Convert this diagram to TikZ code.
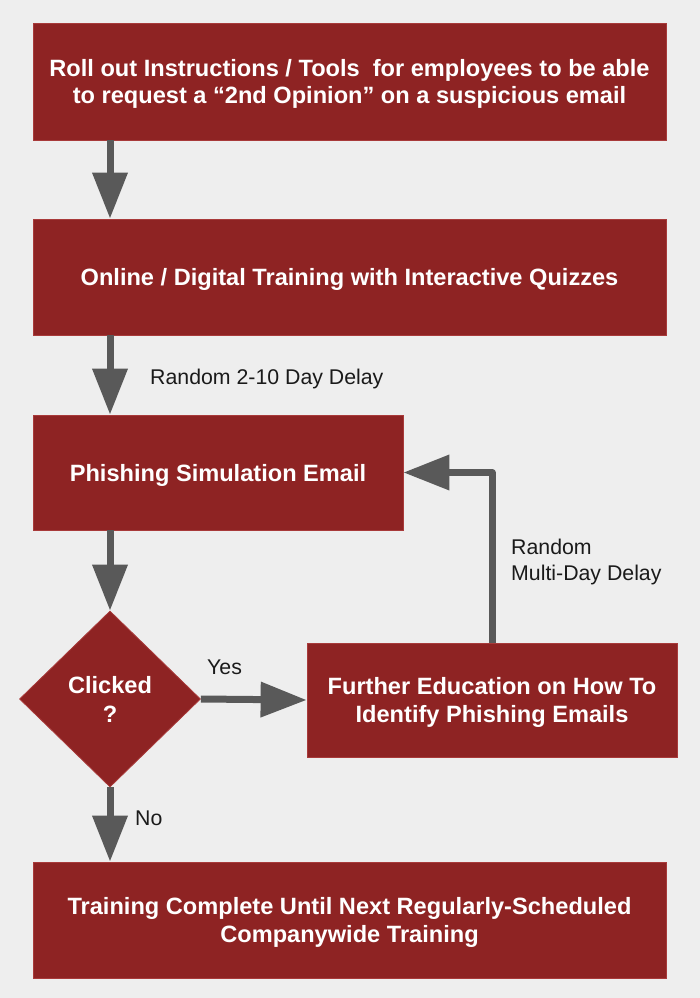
\documentclass[tikz,border=0pt]{standalone}
\usepackage{fontspec}
\setmainfont{Liberation Sans}
\usetikzlibrary{arrows.meta,shapes.geometric,calc}
\definecolor{boxred}{HTML}{8E2323}
\definecolor{boxedge}{HTML}{A83A3A}
\definecolor{bg}{HTML}{EEEEEE}
\definecolor{arrowgray}{HTML}{595959}
\definecolor{lbltext}{HTML}{1A1A1A}
\begin{document}
\begin{tikzpicture}[x=1pt,y=-1pt,
  box/.style={fill=boxred, draw=boxedge, line width=0.8pt, inner sep=0pt, align=center,
    text=white, text depth=0pt, font=\fontsize{23.6}{27.5}\selectfont\bfseries},
  dia/.style={diamond, fill=boxred, draw=boxedge, line width=0.8pt, inner sep=0pt, align=center,
    text=white, text depth=0pt, font=\fontsize{23.6}{29}\selectfont\bfseries, minimum width=181pt, minimum height=176pt},
  flow/.style={draw=arrowgray, line width=7pt, line join=round, -{Triangle[length=46pt,width=34pt]}},
  lbl/.style={font=\fontsize{21.3}{26}\selectfont, text=lbltext, inner sep=0pt}]
\fill[bg] (0,0) rectangle (700,998);
\useasboundingbox (0,0) rectangle (700,998);

\node[box, minimum width=633pt, minimum height=117pt] (b1) at (349.5,81.5)
  {Roll out Instructions / Tools~ for employees to be able\\to request a “2nd Opinion” on a suspicious email};
\node[box, minimum width=633pt, minimum height=116pt] (b2) at (349.5,277)
  {Online / Digital Training with Interactive Quizzes};
\node[box, minimum width=370pt, minimum height=115pt] (b3) at (218,472.5)
  {Phishing Simulation Email};
\node[dia] (d) at (110,699) {Clicked\\?};
\node[box, minimum width=370pt, minimum height=114pt] (b4) at (492,700)
  {Further Education on How To\\Identify Phishing Emails};
\node[box, minimum width=633pt, minimum height=116pt] (b5) at (349.5,920)
  {Training Complete Until Next Regularly-Scheduled\\Companywide Training};

\draw[flow] (b1.south -| d) -- (b2.north -| d);
\draw[flow] (b2.south -| d) -- (b3.north -| d);
\draw[flow] (b3.south -| d) -- (d.north);
\draw[flow] (d.east) -- (b4.west);
\draw[flow] (b4.north) |- (b3.east);
\draw[flow] (d.south) -- (b5.north -| d);

\node[lbl, anchor=base west] (l1) at (150,384) {Random 2-10 Day Delay};
\node[lbl, anchor=base west] (l2) at (207,674) {Yes};
\node[lbl, anchor=base west] (l3) at (135,825) {No};
\node[lbl, anchor=north west, align=left] (l4) at (511,539) {Random\\Multi-Day Delay};
\end{tikzpicture}
\end{document}
